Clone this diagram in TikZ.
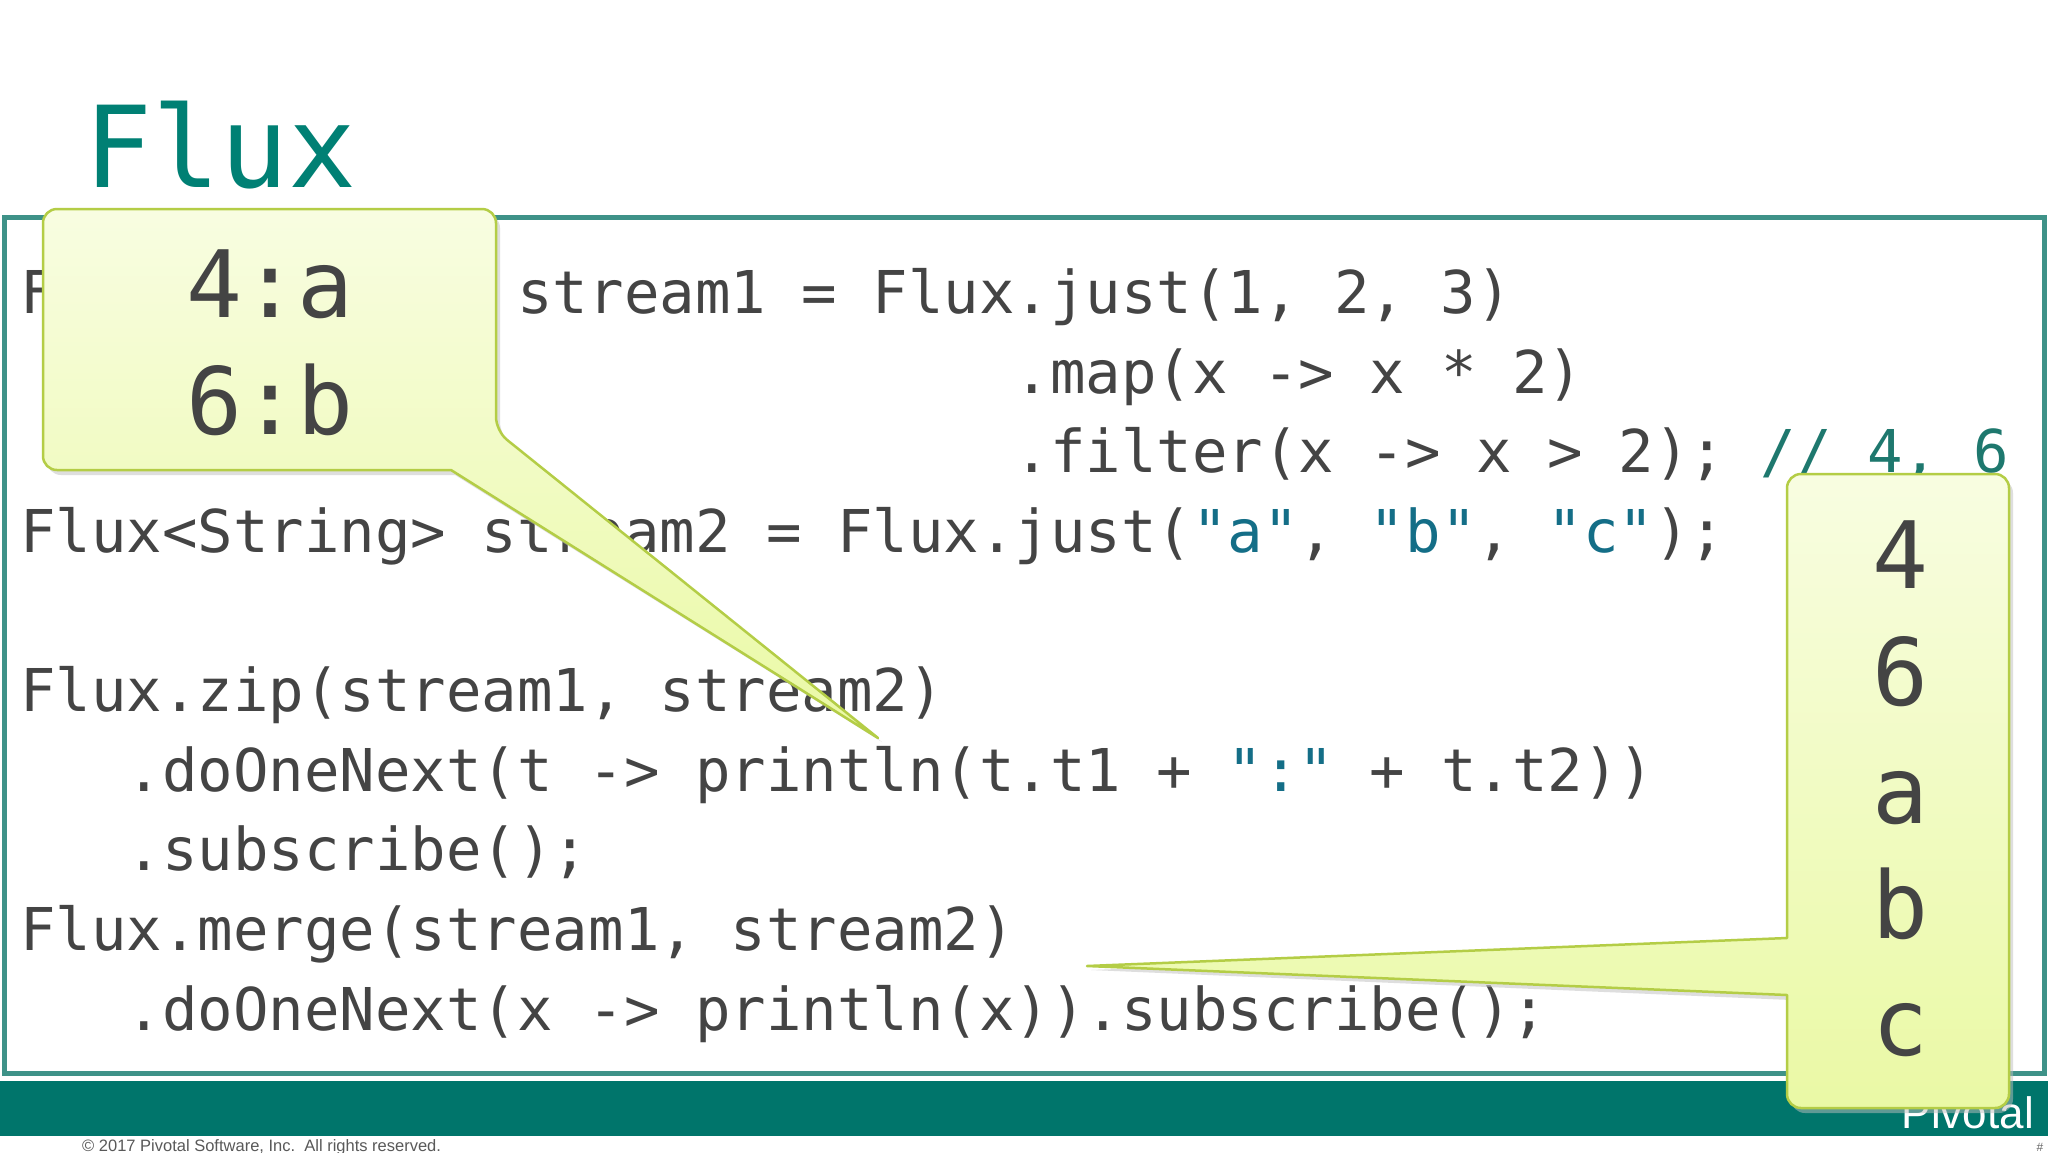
\documentclass[tikz,border=0pt]{standalone}
\usepackage{fontspec}
\setmainfont{DejaVu Sans Mono}
\setmonofont{DejaVu Sans Mono}
\newfontfamily\sansf{Liberation Sans}
\begin{document}
\definecolor{teal1}{RGB}{0,128,116}
\definecolor{frame}{RGB}{62,146,136}
\definecolor{bar}{RGB}{0,117,107}
\definecolor{codec}{RGB}{68,68,68}
\definecolor{strc}{RGB}{20,110,135}
\definecolor{cmtc}{RGB}{30,120,110}
\definecolor{cfillA}{RGB}{248,253,225}
\definecolor{cfillB}{RGB}{234,249,165}
\definecolor{cedge}{RGB}{180,205,70}
\begin{tikzpicture}[x=1pt,y=-1pt,
  code/.style={anchor=base west,inner sep=0,font=\ttfamily\fontsize{59}{59}\selectfont,text=codec},
  big/.style={anchor=base,inner sep=0,font=\ttfamily\fontsize{93}{93}\selectfont,text=codec},
  callout/.style={draw=cedge,line width=2.5pt,top color=cfillA,bottom color=cfillB,line join=round},
  shadowc/.style={fill=black!25,opacity=0.5}]
\useasboundingbox (0,0) rectangle (2048,1152);
\fill[white] (0,0) rectangle (2048,1152);
\node[anchor=base west,inner sep=0,font=\ttfamily\fontsize{113}{113}\selectfont,text=teal1] (title) at (84,187) {Flux};
\draw[frame,line width=5pt] (4,217) rectangle (2044,1073);
\node[code] (l1) at (20,313) {Flux<Integer> stream1 = Flux.just(1, 2, 3)};
\node[code] (l2) at (20,393) {\hspace*{28\fontcharwd\font`\ }.map(x -> x * 2)};
\node[code] (l3) at (20,472) {\hspace*{28\fontcharwd\font`\ }.filter(x -> x > 2); \textcolor{cmtc}{// 4, 6}};
\node[code] (l4) at (20,552) {Flux<String> stream2 = Flux.just(\textcolor{strc}{"a"}, \textcolor{strc}{"b"}, \textcolor{strc}{"c"});};
\node[code] (l5) at (20,711) {Flux.zip(stream1, stream2)};
\node[code] (l6) at (20,791) {\hspace*{3\fontcharwd\font`\ }.doOneNext(t -> println(t.t1 + \textcolor{strc}{":"} + t.t2))};
\node[code] (l7) at (20,870) {\hspace*{3\fontcharwd\font`\ }.subscribe();};
\node[code] (l8) at (20,950) {Flux.merge(stream1, stream2)};
\node[code] (l9) at (20,1030) {\hspace*{3\fontcharwd\font`\ }.doOneNext(x -> println(x)).subscribe();};
\fill[bar] (0,1081) rectangle (2048,1136);
\node[anchor=base east,inner sep=0,font=\sansf\fontsize{44}{44}\selectfont,text=white] (piv) at (2034,1128) {Pivotal};
\node[anchor=base west,inner sep=0,font=\sansf\fontsize{16.5}{16.5}\selectfont,text=black!65] (copy) at (82,1151) {\textcopyright{} 2017 Pivotal Software, Inc.\ \ All rights reserved.};
\node[anchor=base,inner sep=0,font=\sansf\fontsize{12}{12}\selectfont,text=black!60] (hash) at (2040,1151) {\#};
% callout 1
\fill[shadowc] (47,344) [rounded corners=14] |- (500,214) -- (500,436) [sharp corners] -- (882,742) -- (455,475) [rounded corners=14] -| (47,344) -- cycle;
\draw[callout] (43,340) [rounded corners=14] |- (496,209) -- (496,431) [sharp corners] -- (878,738) -- (451,470) [rounded corners=14] -| (43,340) -- cycle;
\node[big] (c1a) at (270,317) {4:a};
\node[big] (c1b) at (270,434) {6:b};
% callout 2
\fill[shadowc] (1791,700) [rounded corners=14] |- (2013,479) |- (1791,1113) [sharp corners] -- (1791,1000) -- (1091,970) -- (1791,943) [rounded corners=14] -- cycle;
\draw[callout] (1787,700) [rounded corners=14] |- (2009,474) |- (1787,1108) [sharp corners] -- (1787,995) -- (1087,966) -- (1787,938) [rounded corners=14] -- cycle;
\node[big] (n4) at (1900,588) {4};
\node[big] (n6) at (1900,705) {6};
\node[big] (na) at (1900,823) {a};
\node[big] (nb) at (1900,938) {b};
\node[big] (nc) at (1900,1055) {c};
\end{tikzpicture}
\end{document}
